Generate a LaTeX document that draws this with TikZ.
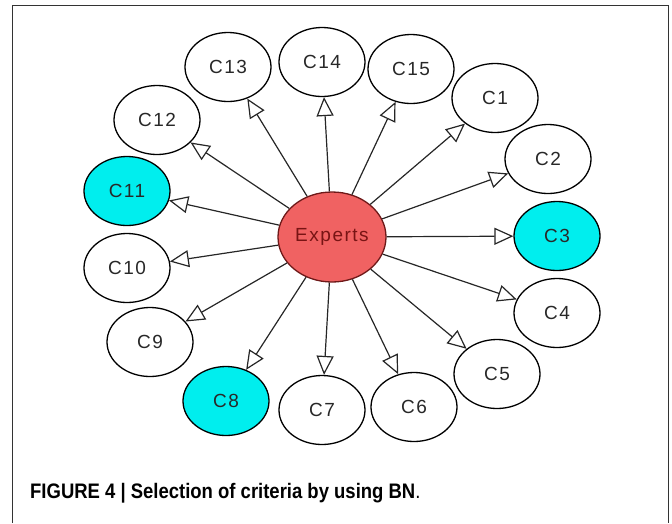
\documentclass[tikz,border=0pt]{standalone}
\usepackage{fontspec}
\setmainfont{Liberation Sans}
\newfontfamily\nodefont[LetterSpace=8]{Liberation Sans}
\newfontfamily\capfont[FakeStretch=0.88]{Liberation Sans}
\usetikzlibrary{shapes.geometric,arrows.meta}
\definecolor{cyanfill}{RGB}{0,238,238}
\definecolor{expfill}{RGB}{240,98,98}
\definecolor{expline}{RGB}{110,25,25}
\definecolor{exptext}{RGB}{120,20,20}
\definecolor{txt}{RGB}{40,40,40}
\begin{document}
\begin{tikzpicture}[x=1pt,y=-1pt,
  crit/.style={ellipse,draw=black,line width=1.3pt,minimum width=86pt,minimum height=69pt,inner sep=0pt,
    font=\nodefont\fontsize{19}{22}\selectfont,text=txt,fill=white},
  hi/.style={crit,fill=cyanfill},
  expnode/.style={ellipse,draw=expline,line width=1.3pt,fill=expfill,minimum width=108pt,minimum height=90pt,inner sep=0pt,
    font=\nodefont\fontsize{19}{22}\selectfont,text=exptext},
  edge/.style={line width=1.2pt,draw=black!85,-{Triangle[length=19pt,width=17pt,fill=white,line width=1.2pt]}},
  frame/.style={line width=1.3pt,draw=black!80}]
\useasboundingbox (0,0) rectangle (672,523);
\draw[frame] (12.5,523) -- (12.5,5.5) -- (668.5,5.5) -- (668.5,523);
\node[expnode] (E) at (332,237) {Experts};
\node[crit] (c13) at (228,67) {C13};
\node[crit] (c14) at (322,62) {C14};
\node[crit] (c15) at (411,69) {C15};
\node[crit] (c1) at (495,98) {C1};
\node[crit] (c2) at (548,159) {C2};
\node[hi] (c3) at (557,236) {C3};
\node[crit] (c4) at (557,313) {C4};
\node[crit] (c5) at (497,374) {C5};
\node[crit] (c6) at (414,407) {C6};
\node[crit] (c7) at (322,410) {C7};
\node[hi] (c8) at (226,401) {C8};
\node[crit] (c9) at (150,342) {C9};
\node[crit] (c10) at (127,268) {C10};
\node[hi] (c11) at (127,191) {C11};
\node[crit] (c12) at (157,120) {C12};
\foreach \n in {c1,c2,c3,c4,c5,c6,c7,c8,c9,c10,c11,c12,c13,c14,c15}
  \draw[edge] (E) -- (\n);
\node[anchor=base west,inner sep=0pt,font=\capfont\fontsize{21}{24}\selectfont] (cap) at (30,498)
  {\bfseries FIGURE 4 | Selection of criteria by using BN\mdseries.};
\end{tikzpicture}
\end{document}
